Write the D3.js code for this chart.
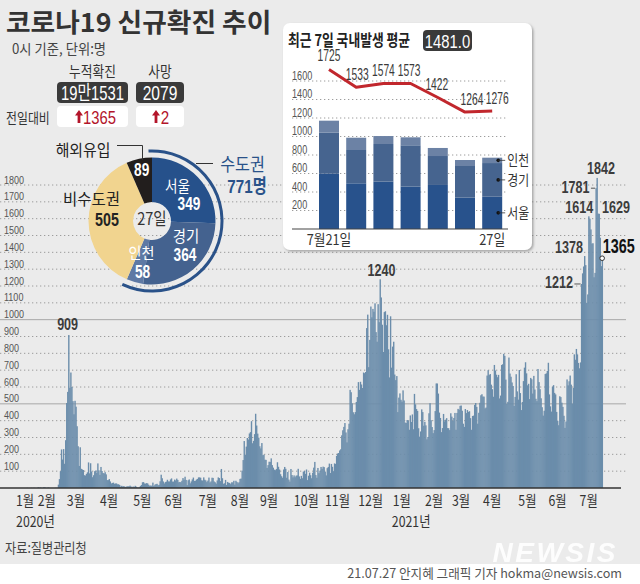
<!DOCTYPE html>
<html><head><meta charset="utf-8">
<script src="https://cdn.jsdelivr.net/npm/d3@7"></script>
<style>html,body{margin:0;padding:0;background:#fff}svg{display:block}</style>
</head><body>
<svg id="c" width="640" height="584"></svg>
<script>
// ---------------- DATA ----------------
const startDate = "2020-01-20";
const jan2020 = [1,0,0,0,1,0,1,1,0,0,2,4];
const feb2020 = [1,3,0,1,5,4,1,0,3,2,0,0,0,0,0,1,1,1,20,53,100,229,169,231,144,284,505,571,909];
const mar2020 = [595,686,600,516,438,518,483,367,248,131,242,114,110,107,76,74,84,93,152,87,147,98,64,76,100,104,91,146,105,78,125];
const apr2020 = [101,89,86,94,81,47,47,53,39,27,30,32,25,27,27,22,22,18,8,13,9,11,8,6,10,10,10,14,9,4];
const may2020 = [9,6,13,8,3,2,4,12,18,34,35,27,26,29,27,19,13,15,13,32,12,20,23,25,16,19,40,79,58,39,27];
const jun2020 = [35,38,49,39,39,51,57,38,38,50,45,56,48,34,36,34,43,59,49,67,48,17,46,51,28,39,51,62,42,43];
const jul2020 = [50,54,63,63,61,46,44,63,49,45,35,44,62,33,39,61,60,39,34,26,45,63,59,41,113,58,25,28,48,18,36];
const aug2020 = [31,30,23,34,33,43,20,43,36,28,34,54,56,103,166,279,197,246,297,288,324,332,397,266,280,320,441,371,323,299,248];
const sep2020 = [235,267,195,198,168,167,119,136,156,155,176,136,121,109,106,113,153,126,110,82,70,61,110,125,114,61,95,50,38,113];
const oct2020 = [77,63,75,64,73,75,114,69,54,72,58,97,102,84,110,47,73,91,76,58,91,121,155,77,61,119,88,103,125,114,127];
const nov2020 = [124,97,75,118,125,145,89,143,126,100,146,143,191,205,208,223,230,313,343,363,386,330,271,349,382,583,569,503,450,438];
const dec2020 = [451,511,540,629,583,631,615,594,686,682,689,950,1030,718,880,1078,1014,1064,1047,1097,926,869,1092,985,1240,1132,970,808,1045,1050,967];
const jan2021 = [1029,824,657,1020,715,840,869,674,641,665,451,537,562,524,513,580,520,389,386,404,400,346,431,392,437,349,559,497,469,458,355];
const feb2021 = [305,336,467,451,370,393,372,289,303,444,504,403,362,326,344,457,621,621,561,448,416,332,356,440,396,406,415,356];
const mar2021 = [355,344,444,424,398,416,446,346,446,470,465,488,490,459,382,363,469,445,463,452,456,415,346,428,430,494,505,482,382,447,506];
const apr2021 = [551,557,543,543,473,478,668,700,671,677,614,587,542,731,698,673,658,672,532,549,731,735,797,785,644,499,512,775,680,661];
const may2021 = [627,606,488,541,676,574,525,701,564,463,511,635,715,747,681,610,619,528,654,646,561,666,585,530,516,707,629,587,533,480,430];
const jun2021 = [459,677,681,695,744,556,485,454,602,611,565,556,452,399,373,545,540,507,482,429,357,395,645,610,634,668,614,501,595,794];
const jul2021 = [762,826,794,743,711,746,1212,1275,1316,1378,1324,1100,1150,1614,1600,1536,1452,1454,1252,1278,1781,1842,1630,1629,1487,1318,1365];

const yTicks = [100,200,300,400,500,600,700,800,900,1000,1100,1200,1300,1400,1500,1600,1700,1800];
const monthTicks = [["2020-01-18","1월"],["2020-02-08","2월"],["2020-03-07","3월"],["2020-04-08","4월"],["2020-05-10","5월"],["2020-06-09","6월"],["2020-07-12","7월"],["2020-08-12","8월"],["2020-09-09","9월"],["2020-10-15","10월"],["2020-11-14","11월"],["2020-12-16","12월"],["2021-01-15","1월"],["2021-02-15","2월"],["2021-03-13","3월"],["2021-04-12","4월"],["2021-05-16","5월"],["2021-06-14","6월"],["2021-07-14","7월"]];
const yearTicks = [["2020-01-28","2020년"],["2021-01-24","2021년"]];
const annotDates = ["2020-02-29","2020-12-25","2021-07-07","2021-07-10","2021-07-14","2021-07-21","2021-07-22","2021-07-24","2021-07-27"];

// header
const cumulative = "19만1531", deaths = "2079", cumDiff = "1365", deathDiff = "2";

// donut (27일)
const donutNames = ["서울","경기","인천","비수도권","해외유입"];
const donutValues = [349,364,58,505,89];
const capitalTotal = "771명";

// inset (최근 7일)
const insetDays = ["7월21일","22일","23일","24일","25일","26일","27일"];
const insetDayLabels = ["7월21일","","","","","","27일"];
const seoul = [598,494,512,458,476,339,349];
const gyeonggi = [443,360,407,447,313,342,364];
const incheon = [130,133,86,86,87,65,58];
const domestic = [1725,1533,1574,1573,1422,1264,1276];
const domesticAvg = "1481.0";
const insetTicks = [200,400,600,800,1000,1200,1400,1600];

// ---------------- RENDER ----------------
const FK = "'Noto Sans CJK KR','Noto Sans',sans-serif";
const FN = "'Liberation Sans',Arial,'Noto Sans CJK KR',sans-serif";
const svg = d3.select("#c");
function T(g, x, y, s, o={}) {
  const t = g.append("text")
    .attr("transform", `translate(${x},${y}) scale(${o.sx ?? 1},1)`)
    .attr("text-anchor", o.anchor || "start")
    .attr("font-family", o.family || FK)
    .attr("font-size", o.size || 14)
    .attr("font-weight", o.weight || 400)
    .attr("fill", o.fill || "#333")
    .text(s);
  if (o.italic) t.attr("font-style", "italic");
  if (o.ls) t.attr("letter-spacing", o.ls);
  if (o.opacity) t.attr("opacity", o.opacity);
  return t;
}

svg.append("rect").attr("width",640).attr("height",564).attr("fill","#ebebeb");
svg.append("rect").attr("y",564).attr("width",640).attr("height",20).attr("fill","#fff");

const daily = [].concat(jan2020,feb2020,mar2020,apr2020,may2020,jun2020,jul2020,aug2020,sep2020,oct2020,nov2020,dec2020,jan2021,feb2021,mar2021,apr2021,may2021,jun2021,jul2021);
const d0 = new Date(startDate);
const series = daily.map((v,i)=>({date: d3.utcDay.offset(d0,i), v}));
const dEnd = d3.utcDay.offset(d0, daily.length);

const x = d3.scaleUtc().domain([d0, dEnd]).range([26.6, 602.7]);
const y = d3.scaleLinear().domain([0,1800]).range([488,185]);

// gridlines
const grid = svg.append("g");
yTicks.forEach(v=>{
  const solid = (v===500 || v===1000);
  grid.append("line").attr("x1",0).attr("x2",626).attr("y1",y(v)).attr("y2",y(v))
    .attr("stroke", solid ? "#a8a8a8" : "#9c9c9c").attr("stroke-width",1)
    .attr("stroke-dasharray", solid ? null : "1.3,2.7");
  T(grid, 4, y(v)-1.5, String(v), {family:FN, size:10.5, sx:0.86, fill:"#555"});
});

// bars
svg.append("g").selectAll("rect").data(series).join("rect")
  .attr("x", d=>x(d.date))
  .attr("width", d=>x(d3.utcDay.offset(d.date,1)) - x(d.date) + 0.35)
  .attr("y", d=>y(d.v))
  .attr("height", d=>y(0)-y(d.v))
  .attr("fill", "#6b8dab");

// axis baseline
svg.append("line").attr("x1",0).attr("x2",621).attr("y1",y(0)).attr("y2",y(0))
  .attr("stroke","#333").attr("stroke-width",1.5);

// month labels
const xa = svg.append("g");
monthTicks.forEach(([d,l])=>{
  T(xa, x(new Date(d))+0.5, 506, l, {anchor:"middle", size:15, sx:0.82, fill:"#333"});
});
yearTicks.forEach(([d,l])=>{
  T(xa, x(new Date(d))+0.5, 527, l, {anchor:"middle", size:15, sx:0.82, fill:"#333"});
});

// annotations
const byDate = new Map(series.map(d=>[+d.date, d.v]));
const annStyle = [
  {dx:-1, dy:-5, anchor:"middle"},
  {dx:1.5, dy:-3.5, anchor:"middle"},
  {dx:-8.5, dy:4, anchor:"end", dash:true},
  {dx:-1.5, dy:-3, anchor:"end"},
  {dx:4.5, dy:-3, anchor:"end"},
  {dx:-6.5, dy:5, anchor:"end", dash:true},
  {dx:4, dy:-3.5, anchor:"middle"},
  {dx:3, dy:-1, anchor:"start"},
  {dx:0.5, dy:-5.5, anchor:"start", big:true}
];
const ann = svg.append("g");
annotDates.forEach((ds,i)=>{
  const dt = new Date(ds), v = byDate.get(+dt), st = annStyle[i];
  const xc = x(dt) + 0.5, yt = y(v);
  if (st.dash) ann.append("line").attr("x1", xc+st.dx+1.5).attr("x2", xc-0.8).attr("y1", yt).attr("y2", yt)
      .attr("stroke","#555").attr("stroke-width",1);
  if (st.big) {
    ann.append("circle").attr("cx",xc).attr("cy",yt).attr("r",2.3).attr("fill","#fff").attr("stroke","#333").attr("stroke-width",1);
    T(ann, xc+st.dx, yt+st.dy, String(v), {family:FN, size:20, weight:700, sx:0.72, fill:"#111", anchor:st.anchor});
  } else {
    T(ann, xc+st.dx, yt+st.dy, String(v), {family:FN, size:17, weight:700, sx:0.74, fill:"#3c3c3c", anchor:st.anchor});
  }
});

// ---------------- header ----------------
const hd = svg.append("g");
T(hd, 6, 32, "코로나19 신규확진 추이", {size:26, weight:700, sx:1.03, fill:"#333"});
T(hd, 12, 54, "0시 기준, 단위:명", {size:14, sx:0.95, fill:"#444"});
T(hd, 92.5, 77, "누적확진", {size:15, sx:0.85, anchor:"middle"});
T(hd, 160, 77, "사망", {size:15, sx:0.85, anchor:"middle"});
hd.append("rect").attr("x",57).attr("y",82).attr("width",71).attr("height",21).attr("rx",4).attr("fill","#3a3a3a");
hd.append("rect").attr("x",136).attr("y",82).attr("width",48).attr("height",21).attr("rx",4).attr("fill","#3a3a3a");
T(hd, 92.5, 100, cumulative, {family:FN, size:20, sx:0.74, fill:"#fff", anchor:"middle"});
T(hd, 160, 100, deaths, {family:FN, size:20, sx:0.78, fill:"#fff", anchor:"middle"});
hd.append("rect").attr("x",57).attr("y",106).attr("width",71).attr("height",21).attr("rx",4).attr("fill","#fff");
hd.append("rect").attr("x",136).attr("y",106).attr("width",48).attr("height",21).attr("rx",4).attr("fill","#fff");
T(hd, 6, 123, "전일대비", {size:14, sx:0.85, fill:"#333"});
function upArrow(g, cx, cy){
  g.append("path").attr("d", `M${cx},${cy-7} L${cx+4},${cy-1.5} L${cx+1.4},${cy-1.5} L${cx+1.4},${cy+6} L${cx-1.4},${cy+6} L${cx-1.4},${cy-1.5} L${cx-4},${cy-1.5} Z`).attr("fill","#b3152a");
}
upArrow(hd, 79, 117);
T(hd, 99.5, 124, cumDiff, {family:FN, size:19, sx:0.78, fill:"#b3152a", anchor:"middle"});
upArrow(hd, 156, 117);
T(hd, 165, 124, deathDiff, {family:FN, size:19, sx:0.8, fill:"#b3152a", anchor:"middle"});

// ---------------- donut ----------------
const cx = 152, cy = 221;
const dg = svg.append("g").attr("transform", `translate(${cx},${cy})`);
const colors = ["#26518b","#44628f","#5e79a4","#f1d48f","#221e1d"];
const pie = d3.pie().sort(null).value(d=>d)(donutValues);
const arc = d3.arc().innerRadius(19).outerRadius(63.5);
dg.selectAll("path.s").data(pie).join("path").attr("class","s").attr("d",arc).attr("fill",(d,i)=>colors[i]);
dg.append("path").attr("d", d3.arc().innerRadius(68.5).outerRadius(71.5).startAngle(-0.05).endAngle(3.58)()).attr("fill","#2a5289");
const lab = svg.append("g");
// leaders
lab.append("path").attr("d","M117,145.5 H142.5 V160").attr("fill","none").attr("stroke","#333").attr("stroke-width",1);
lab.append("line").attr("x1",196).attr("x2",213).attr("y1",163.5).attr("y2",163.5).attr("stroke","#333").attr("stroke-width",1);
T(lab, 177.5, 192, donutNames[0], {size:16, sx:0.85, fill:"#fff", anchor:"middle"});
T(lab, 189, 210, String(donutValues[0]), {family:FN, size:19, weight:700, sx:0.72, fill:"#fff", anchor:"middle"});
T(lab, 186, 242, donutNames[1], {size:16, sx:0.9, fill:"#fff", anchor:"middle"});
T(lab, 185, 261, String(donutValues[1]), {family:FN, size:19, weight:700, sx:0.72, fill:"#fff", anchor:"middle"});
T(lab, 141.5, 259, donutNames[2], {size:16, sx:0.88, fill:"#fff", anchor:"middle"});
T(lab, 142.5, 278, String(donutValues[2]), {family:FN, size:19, weight:700, sx:0.72, fill:"#fff", anchor:"middle"});
T(lab, 141.7, 176, String(donutValues[4]), {family:FN, size:19, weight:700, sx:0.72, fill:"#fff", anchor:"middle"});
T(lab, 120, 205, donutNames[3], {size:16, sx:0.97, fill:"#222", anchor:"end"});
T(lab, 107, 226, String(donutValues[3]), {family:FN, size:19, weight:700, sx:0.75, fill:"#222", anchor:"middle"});
T(lab, 83, 156, donutNames[4], {size:16, sx:0.93, fill:"#222", anchor:"middle"});
T(lab, 152, 225, "27일", {size:17, sx:0.85, fill:"#333", anchor:"middle"});
T(lab, 242.5, 171, "수도권", {size:18, sx:0.9, fill:"#2a5289", anchor:"middle"});
T(lab, 247, 193, capitalTotal, {family:FN, size:19, weight:700, sx:0.8, fill:"#2a5289", anchor:"middle"});

// ---------------- inset ----------------
const defs = svg.append("defs");
const f = defs.append("filter").attr("id","sh").attr("x","-10%").attr("y","-10%").attr("width","120%").attr("height","120%");
f.append("feDropShadow").attr("dx",1.5).attr("dy",1.5).attr("stdDeviation",1.3).attr("flood-color","#777").attr("flood-opacity",0.6);
const ig = svg.append("g");
ig.append("rect").attr("x",283).attr("y",23).attr("width",249).attr("height",227).attr("rx",7).attr("fill","#fff").attr("filter","url(#sh)");
T(ig, 288, 46, "최근 7일 국내발생 평균", {size:16, weight:700, sx:0.8, fill:"#222"});
ig.append("rect").attr("x",423).attr("y",30).attr("width",49).attr("height",21).attr("rx",4).attr("fill","#3a3a3a");
T(ig, 447.5, 47.5, domesticAvg, {family:FN, size:19, sx:0.78, fill:"#fff", anchor:"middle"});

const iy = d3.scaleLinear().domain([0,1600]).range([229,81]);
const ix = d3.scaleBand().domain(insetDays).range([315.4,505.8]).paddingInner(0.265).paddingOuter(0.1325);
insetTicks.forEach(v=>{
  ig.append("line").attr("x1",292).attr("x2",507).attr("y1",iy(v)).attr("y2",iy(v))
    .attr("stroke","#9c9c9c").attr("stroke-dasharray","1.3,2.7");
  T(ig, 292, iy(v)-1.5, String(v), {family:FN, size:12, sx:0.76, fill:"#555"});
});
const stackRows = insetDays.map((d,i)=>({day:d, s:seoul[i], g:gyeonggi[i], c:incheon[i]}));
const stack = d3.stack().keys(["s","g","c"])(stackRows);
const scol = {s:"#28528c", g:"#46648f", c:"#6c82a5"};
stack.forEach(layer=>{
  ig.append("g").selectAll("rect").data(layer).join("rect")
    .attr("x", d=>ix(d.data.day)).attr("width", ix.bandwidth())
    .attr("y", d=>iy(d[1])).attr("height", d=>iy(d[0])-iy(d[1]))
    .attr("fill", scol[layer.key]);
});
ig.append("line").attr("x1",292).attr("x2",508).attr("y1",iy(0)).attr("y2",iy(0)).attr("stroke","#444").attr("stroke-width",1.2);
const lineGen = d3.line().x((d,i)=>ix(insetDays[i])+ix.bandwidth()/2).y(d=>iy(d));
ig.append("path").attr("d", lineGen(domestic)).attr("fill","none").attr("stroke","#c1272d").attr("stroke-width",3).attr("stroke-linejoin","round");
const lblDx = [0,1,0,-1.5,-1,7,5];
domestic.forEach((v,i)=>{
  T(ig, ix(insetDays[i])+ix.bandwidth()/2+lblDx[i], iy(v)-(i===0?8:7), String(v), {family:FN, size:16, sx:0.64, fill:"#3a3a3a", anchor:"middle"});
});
// legend on last bar
const last = stackRows.length-1;
const lx = ix(insetDays[last]) + ix.bandwidth()/2 + 6;
const legend = [["c","인천"],["g","경기"],["s","서울"]];
legend.forEach(([k,name])=>{
  const layer = stack.find(l=>l.key===k)[last];
  const ly = iy((layer[0]+layer[1])/2);
  ig.append("circle").attr("cx",lx).attr("cy",ly).attr("r",1.8).attr("fill","#111");
  ig.append("line").attr("x1",lx).attr("x2",lx+7).attr("y1",ly).attr("y2",ly).attr("stroke","#333").attr("stroke-width",0.8);
  T(ig, lx+9, ly+5, name, {size:14, sx:0.85, fill:"#333"});
});
insetDayLabels.forEach((l,i)=>{
  if (l) T(ig, ix(insetDays[i])+ix.bandwidth()/2, 245, l, {size:15, sx:0.85, fill:"#333", anchor:"middle"});
});

// ---------------- footer ----------------
T(svg, 5, 553, "자료:질병관리청", {size:14, sx:0.87, fill:"#444"});
T(svg, 618, 562, "NEWSIS", {family:FN, size:28, weight:700, italic:true, ls:2.5, fill:"#fff", anchor:"end", opacity:0.9});
T(svg, 622, 578, "21.07.27 안지혜 그래픽 기자 hokma@newsis.com", {size:13, sx:0.97, fill:"#555", anchor:"end"});
</script>
</body></html>
